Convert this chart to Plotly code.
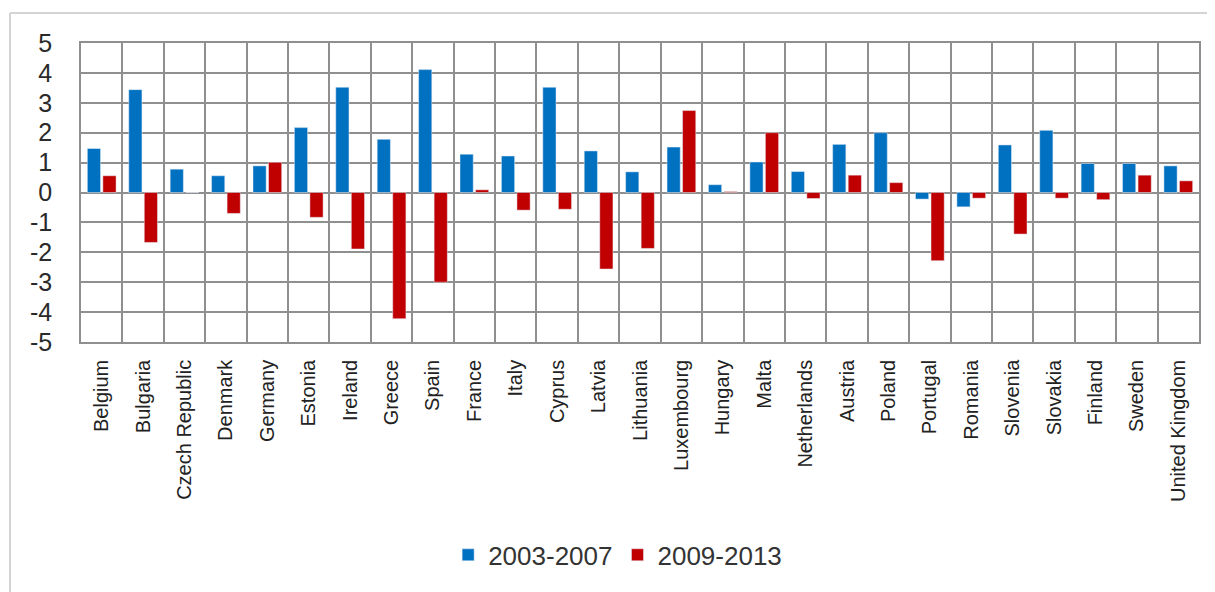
import plotly.graph_objects as go

countries = ["Belgium", "Bulgaria", "Czech Republic", "Denmark", "Germany", "Estonia",
             "Ireland", "Greece", "Spain", "France", "Italy", "Cyprus", "Latvia",
             "Lithuania", "Luxembourg", "Hungary", "Malta", "Netherlands", "Austria",
             "Poland", "Portugal", "Romania", "Slovenia", "Slovakia", "Finland",
             "Sweden", "United Kingdom"]

period_a = [1.47, 3.44, 0.78, 0.56, 0.89, 2.17, 3.52, 1.78, 4.11, 1.28, 1.22, 3.52, 1.39,
            0.69, 1.52, 0.26, 1.02, 0.70, 1.61, 2.00, -0.22, -0.48, 1.59, 2.08, 0.97,
            0.97, 0.89]
period_b = [0.56, -1.67, 0.0, -0.70, 1.01, -0.83, -1.89, -4.22, -3.00, 0.09, -0.59, -0.56,
            -2.56, -1.87, 2.74, 0.03, 2.00, -0.20, 0.58, 0.33, -2.28, -0.19, -1.39, -0.19,
            -0.24, 0.58, 0.39]

y_ticks = [5, 4, 3, 2, 1, 0, -1, -2, -3, -4, -5]
y_tick_text = ["5", "4", "3", "2", "1", "0", "-1", "-2", "-3", "-4", "-5"]

fig = go.Figure()
fig.add_trace(go.Bar(x=countries, y=period_a, name="2003-2007", marker_color="#0070C0"))
fig.add_trace(go.Bar(x=countries, y=period_b, name="2009-2013", marker_color="#C00000"))

grid = "#8f8f8f"
fig.update_layout(
    width=1215, height=592,
    margin={'l': 73, 'r': 24, 't': 35, 'b': 258},
    paper_bgcolor="white", plot_bgcolor="white",
    barmode="group", bargap=0.25, bargroupgap=0.15,
    font=dict(family="Liberation Sans, Arial, sans-serif", color="#333333"),
    legend=dict(orientation="h", x=0.48, xanchor="center", y=-0.712, yanchor="middle",
                font=dict(size=26, color="#333333"), itemwidth=30),
    showlegend=True,
)
fig.update_xaxes(
    type="category", tickson="boundaries", ticks="", tickangle=-90,
    tickfont=dict(size=20, color="#222222"), ticklabelstandoff=8,
    showgrid=True, gridcolor=grid, gridwidth=1.5,
    showline=True, linecolor=grid, linewidth=1.5, mirror=True,
    automargin=False,
)
fig.update_yaxes(
    range=[-5, 5], tickvals=y_ticks, ticktext=y_tick_text, ticks="",
    tickfont=dict(size=25, color="#2a2a2a"), ticklabelstandoff=22,
    showgrid=True, gridcolor=grid, gridwidth=1.5,
    zeroline=True, zerolinecolor=grid, zerolinewidth=1.5,
    showline=True, linecolor=grid, linewidth=1.5, mirror=True,
    automargin=False,
)
# light outer frame of the original chart box
fig.add_shape(type="line", xref="paper", yref="paper", x0=-0.0635, x1=1.03, y0=1.1, y1=1.1,
              line=dict(color="#d4d4d4", width=2))
fig.add_shape(type="line", xref="paper", yref="paper", x0=-0.0635, x1=-0.0635, y0=1.1, y1=-0.9,
              line=dict(color="#d4d4d4", width=2))

fig.write_html("out.html")
